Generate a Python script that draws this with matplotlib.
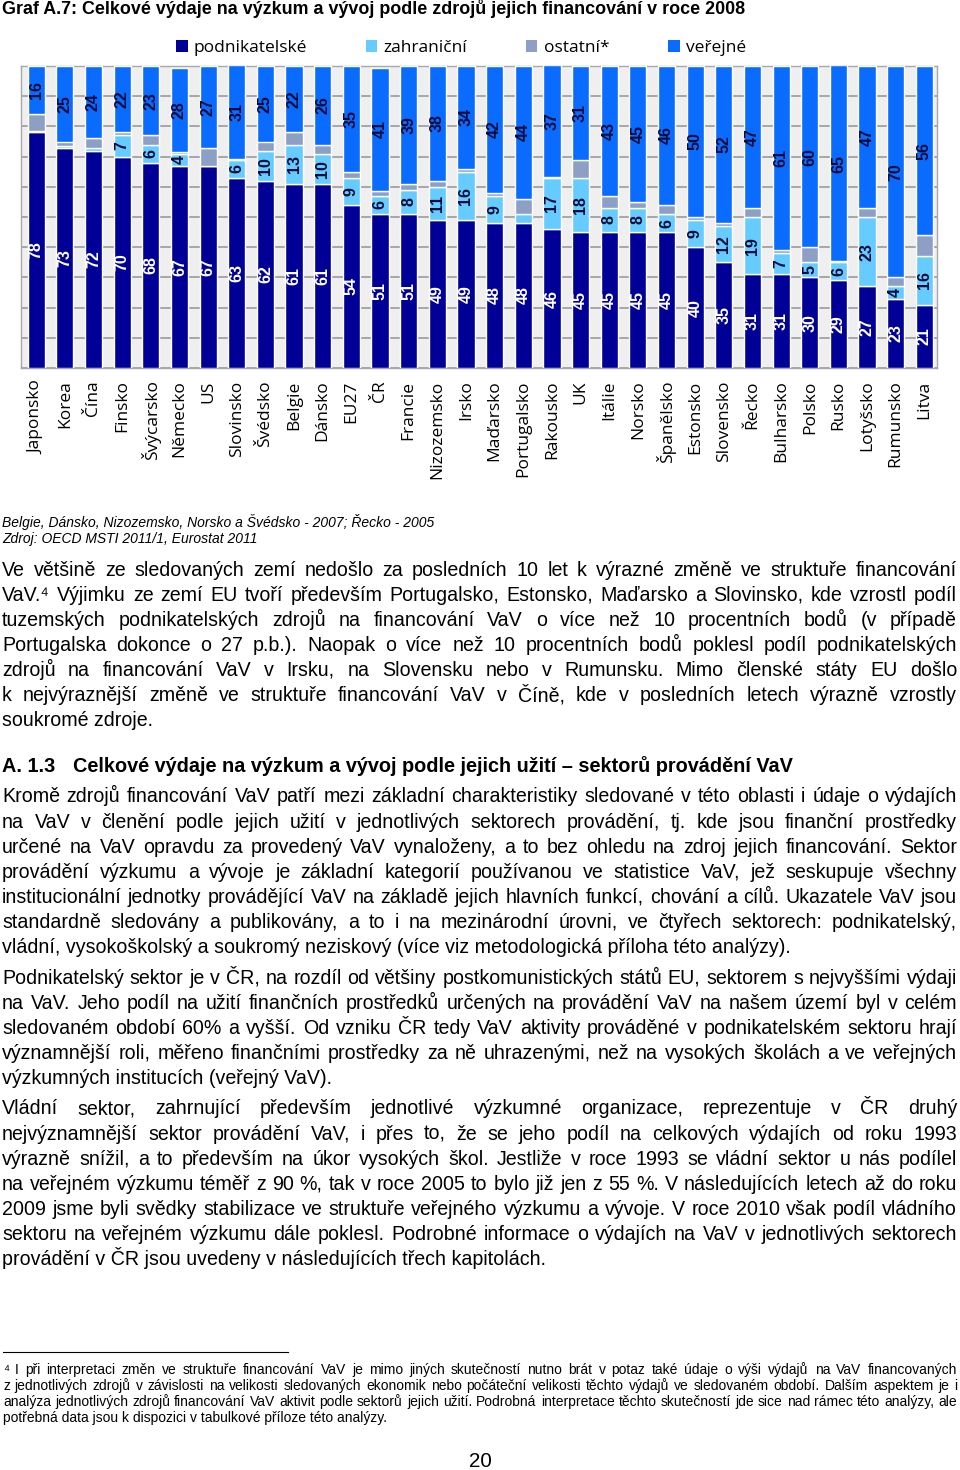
import matplotlib
matplotlib.use('Agg')
from matplotlib import pyplot as plt
from matplotlib.patches import Patch

W, H = 960, 1470

countries = ['Japonsko', 'Korea', 'Čína', 'Finsko', 'Švýcarsko', 'Německo', 'US',
             'Slovinsko', 'Švédsko', 'Belgie', 'Dánsko', 'EU27', 'ČR', 'Francie',
             'Nizozemsko', 'Irsko', 'Maďarsko', 'Portugalsko', 'Rakousko', 'UK',
             'Itálie', 'Norsko', 'Španělsko', 'Estonsko', 'Slovensko', 'Řecko',
             'Bulharsko', 'Polsko', 'Rusko', 'Lotyšsko', 'Rumunsko', 'Litva']
business = [78, 73, 72, 70, 68, 67, 67, 63, 62, 61, 61, 54, 51, 51, 49, 49,
            48, 48, 46, 45, 45, 45, 45, 40, 35, 31, 31, 30, 29, 27, 23, 21]
foreign = [0.4, 0.5, 1, 7, 6, 4, 0, 6, 10, 13, 10, 9, 6, 8, 11, 16,
           9, 3, 17, 18, 8, 8, 6, 9, 12, 19, 7, 5, 6, 23, 4, 16]
other = [5.6, 1.5, 3, 1, 3, 0.5, 6, 0.3, 3, 4, 3, 2, 1.5, 2, 2, 1,
         1, 5, 0.3, 6, 4, 2, 3, 1, 1, 3, 1, 5, 0.3, 3, 3, 7]
public = [16, 25, 24, 22, 23, 28, 27, 31, 25, 22, 26, 35, 41, 39, 38, 34,
          42, 44, 37, 31, 43, 45, 46, 50, 52, 47, 61, 60, 65, 47, 70, 56]

series_names = ['podnikatelské', 'zahraniční', 'ostatní*', 'veřejné']
colors = ['#000096', '#66CCFF', '#8E9FC6', '#0A6CFF']

title = ('Graf A.7: Celkové výdaje na výzkum a vývoj podle zdrojů jejich '
         'financování v roce 2008')
notes = ['Belgie, Dánsko, Nizozemsko, Norsko a Švédsko - 2007; Řecko - 2005',
         'Zdroj: OECD MSTI 2011/1, Eurostat 2011']
heading = ['A. 1.3', 'Celkové výdaje na výzkum a vývoj podle jejich užití – '
           'sektorů provádění VaV']
paragraphs = [
    ['Ve většině ze sledovaných zemí nedošlo za posledních 10 let k výrazné změně ve struktuře financování',
     'VaV.⁴ Výjimku ze zemí EU tvoří především Portugalsko, Estonsko, Maďarsko a Slovinsko, kde vzrostl podíl',
     'tuzemských podnikatelských zdrojů na financování VaV o více než 10 procentních bodů (v případě',
     'Portugalska dokonce o 27 p.b.). Naopak o více než 10 procentních bodů poklesl podíl podnikatelských',
     'zdrojů na financování VaV v Irsku, na Slovensku nebo v Rumunsku. Mimo členské státy EU došlo',
     'k nejvýraznější změně ve struktuře financování VaV v Číně, kde v posledních letech výrazně vzrostly',
     'soukromé zdroje.'],
    ['Kromě zdrojů financování VaV patří mezi základní charakteristiky sledované v této oblasti i údaje o výdajích',
     'na VaV v členění podle jejich užití  v jednotlivých sektorech provádění, tj. kde jsou finanční prostředky',
     'určené na VaV opravdu za provedený VaV vynaloženy, a to bez ohledu na zdroj jejich financování. Sektor',
     'provádění výzkumu a vývoje je základní kategorií používanou ve statistice VaV, jež seskupuje všechny',
     'institucionální jednotky provádějící VaV na základě jejich hlavních funkcí, chování a cílů. Ukazatele VaV jsou',
     'standardně sledovány a publikovány, a to i na mezinárodní úrovni, ve čtyřech sektorech: podnikatelský,',
     'vládní, vysokoškolský a soukromý neziskový (více viz metodologická příloha této analýzy).'],
    ['Podnikatelský sektor je v ČR, na rozdíl od většiny postkomunistických států EU, sektorem s nejvyššími výdaji',
     'na VaV. Jeho podíl na užití finančních prostředků určených na provádění VaV na našem území byl v celém',
     'sledovaném období 60% a vyšší. Od vzniku ČR tedy VaV aktivity prováděné v podnikatelském sektoru hrají',
     'významnější roli, měřeno finančními prostředky za ně uhrazenými, než na vysokých školách a ve veřejných',
     'výzkumných institucích (veřejný VaV).'],
    ['Vládní sektor, zahrnující především jednotlivé výzkumné organizace, reprezentuje v ČR druhý',
     'nejvýznamnější sektor provádění VaV, i přes to, že se jeho podíl na celkových výdajích od roku 1993',
     'výrazně snížil, a to především na úkor vysokých škol. Jestliže v roce 1993 se vládní sektor u nás podílel',
     'na veřejném výzkumu téměř z 90 %, tak v roce 2005 to bylo již jen z 55 %. V následujících letech až do roku',
     '2009 jsme byli svědky stabilizace ve struktuře veřejného výzkumu a vývoje. V roce 2010 však podíl vládního',
     'sektoru na veřejném výzkumu dále poklesl. Podrobné informace o výdajích na VaV v jednotlivých sektorech',
     'provádění v ČR jsou uvedeny v následujících třech kapitolách.'],
]
footnote = [
    '⁴ I při interpretaci změn ve struktuře financování VaV je mimo jiných skutečností nutno brát v potaz také údaje o výši výdajů na VaV financovaných',
    'z jednotlivých zdrojů v závislosti na velikosti sledovaných ekonomik nebo počáteční velikosti těchto výdajů ve sledovaném období. Dalším aspektem je i',
    'analýza jednotlivých zdrojů financování VaV aktivit podle sektorů jejich užití. Podrobná interpretace těchto skutečností jde sice nad rámec této analýzy, ale',
    'potřebná data jsou k dispozici v tabulkové příloze této analýzy.',
]
page_number = '20'

SANS = ['Liberation Sans', 'DejaVu Sans']
LABEL_FONT = ['Open Sans', 'DejaVu Sans']

fig = plt.figure(figsize=(W / 100, H / 100), dpi=100)
fig.patch.set_facecolor('white')
r = fig.canvas.get_renderer()


def fx(x):
    return x / W


def fy(y):
    return 1 - y / H


def fit_size(s, target, **kw):
    t = fig.text(0, 0, s, fontsize=10, **kw)
    w = t.get_window_extent(r).width
    t.remove()
    return 10 * target / w


def put_line(line, y, size, justify, x0=2, x1=957, **kw):
    kw = dict(fontsize=size, family=SANS, va='baseline', ha='left', **kw)
    if not justify:
        fig.text(fx(x0), fy(y), line, **kw)
        return
    words = line.split()
    texts = [fig.text(0, fy(y), w, **kw) for w in words]
    widths = [t.get_window_extent(r).width for t in texts]
    gap = (x1 - x0 - sum(widths)) / (len(words) - 1)
    x = x0
    for t, w in zip(texts, widths):
        t.set_x(fx(x))
        x += w + gap


# chart
ax = fig.add_axes([fx(21), fy(368), fx(937 - 21), (368 - 66) / H])
ax.set_facecolor('#EFEFEF')
xs = range(len(countries))
bottom = [0] * len(countries)
containers = []
for vals, col in zip([business, foreign, other, public], colors):
    c = ax.bar(xs, vals, 0.6, bottom=bottom, color=col, edgecolor='white',
               linewidth=1, zorder=3)
    containers.append(c)
    bottom = [b + v for b, v in zip(bottom, vals)]

lab_kw = dict(label_type='center', rotation=90, fontsize=11.5,
              fontweight='bold', family=SANS)
ax.bar_label(containers[0], labels=[str(v) for v in business], color='white', **lab_kw)
ax.bar_label(containers[1], labels=[str(v) if v >= 4 else '' for v in foreign],
             color='#0B0B3B', **lab_kw)
ax.bar_label(containers[3], labels=[str(v) for v in public], color='#0B0B3B', **lab_kw)

ax.set_xlim(-0.53, len(countries) - 0.56)
ax.set_ylim(0, 100)
ax.set_yticks(range(0, 101, 10))
ax.yaxis.grid(True, color='#9A9A9A', linewidth=1.2)
ax.set_axisbelow(True)
ax.tick_params(axis='y', length=0, labelleft=False)
ax.set_xticks(list(xs))
ax.set_xticklabels(countries, rotation=90, fontsize=12.5, family=LABEL_FONT)
ax.tick_params(axis='x', length=0, pad=9)
for s in ax.spines.values():
    s.set_color('#A8A8A8')
    s.set_linewidth(1)

handles = [Patch(facecolor=c) for c in colors]
fig.legend(handles, series_names, loc='center', bbox_to_anchor=(fx(461), fy(48)),
           ncol=4, frameon=False, prop={'family': LABEL_FONT, 'size': 12.5},
           handlelength=0.65, handleheight=0.65, handletextpad=0.35,
           columnspacing=3.4)

# texts
ts = fit_size(title, 738, family=SANS, fontweight='bold')
put_line(title, 14, ts, False, fontweight='bold')

ns = fit_size(notes[0], 431, family=SANS, fontstyle='italic')
for line, y in zip(notes, [527, 543]):
    put_line(line, y, ns, False, fontstyle='italic')

bs = fit_size(paragraphs[1][-1], 788, family=SANS)
starts = [575.5, 802.5, 983.5, 1114.5]
for para, y0 in zip(paragraphs, starts):
    for k, line in enumerate(para):
        put_line(line, y0 + 25.1 * k, bs, k < len(para) - 1)

hs = fit_size(heading[1], 793 - 73, family=SANS, fontweight='bold')
put_line(heading[0], 771.5, hs, False, fontweight='bold')
put_line(heading[1], 771.5, hs, False, x0=73, fontweight='bold')

fig.add_artist(plt.Line2D([fx(3), fx(288)], [fy(1352), fy(1352)],
                          color='black', linewidth=0.8))
fs = fit_size(footnote[-1], 384, family=SANS)
for k, line in enumerate(footnote):
    put_line(line, 1374 + 16 * k, fs, k < len(footnote) - 1, x0=3)

fig.text(fx(480), fy(1467), page_number, fontsize=bs * 1.05, family=SANS,
         ha='center', va='baseline')

fig.savefig('out.png', dpi=100)
